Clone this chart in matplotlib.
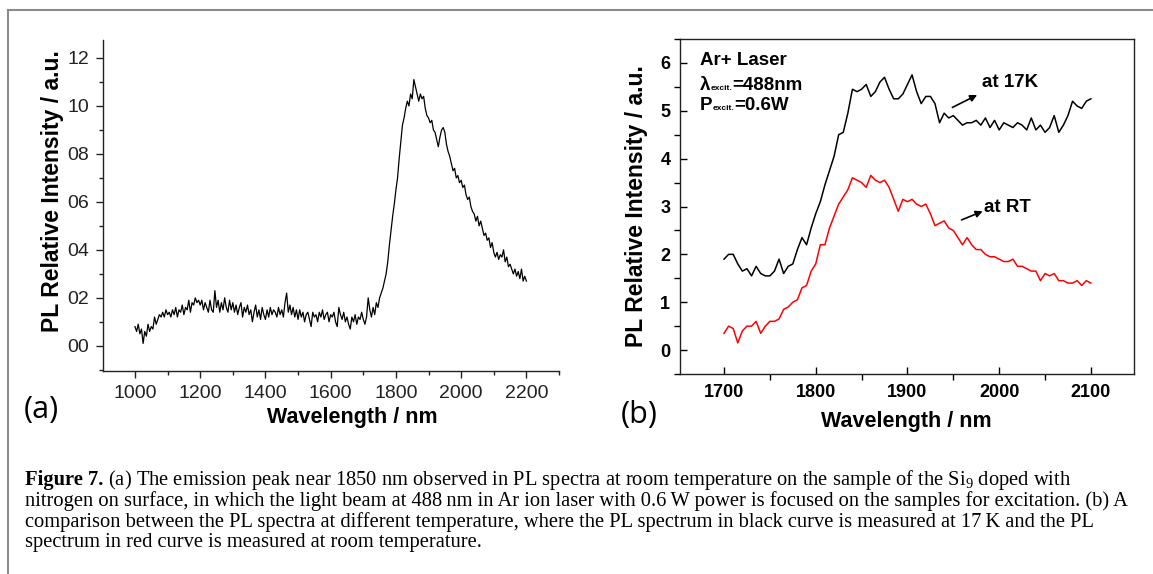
import numpy as np
import matplotlib
matplotlib.use('Agg')
import matplotlib.pyplot as plt
from matplotlib.lines import Line2D
from matplotlib.ticker import MultipleLocator, FormatStrFormatter

plt.rcParams['font.family'] = ['Liberation Sans', 'DejaVu Sans']
plt.rcParams['mathtext.fontset'] = 'custom'
plt.rcParams['mathtext.rm'] = 'Liberation Serif'
plt.rcParams['mathtext.it'] = 'Liberation Serif:italic'
plt.rcParams['mathtext.bf'] = 'Liberation Serif:bold'

# (a) PL spectrum at room temperature, 1000-2200 nm
wl_a = np.arange(1000, 2205, 5)
pl_a = [
    0.8, 0.6, 0.9, 0.5, 0.7, 0.1, 0.6, 0.4, 0.9, 0.6, 0.8, 0.7, 1.2, 0.9, 1.1, 1.3, 1.2, 1.4, 1.2, 1.5,
    1.3, 1.4, 1.2, 1.5, 1.3, 1.6, 1.2, 1.5, 1.4, 1.7, 1.3, 1.6, 1.5, 1.9, 1.4, 1.8, 1.7, 2.0, 1.8, 1.9,
    1.7, 1.9, 1.5, 1.8, 1.6, 1.4, 1.9, 1.5, 1.4, 2.3, 1.6, 1.9, 1.4, 1.8, 1.5, 2.0, 1.6, 1.4, 1.9, 1.5,
    1.8, 1.4, 1.7, 1.3, 1.6, 1.8, 1.2, 1.6, 1.4, 1.7, 1.3, 1.5, 1.0, 1.4, 1.7, 1.2, 1.5, 1.1, 1.6, 1.3,
    1.1, 1.5, 1.2, 1.6, 1.3, 1.5, 1.4, 1.2, 1.6, 1.3, 1.5, 1.2, 1.8, 2.2, 1.4, 1.7, 1.3, 1.6, 1.2, 1.5,
    1.1, 1.5, 1.2, 1.4, 1.0, 1.3, 1.4, 1.1, 0.8, 1.4, 1.2, 1.3, 1.0, 1.4, 1.2, 1.5, 1.1, 1.3, 1.4, 1.0,
    1.3, 1.2, 1.4, 1.0, 0.8, 1.6, 1.3, 1.1, 1.4, 1.0, 1.2, 0.9, 0.7, 1.2, 1.0, 1.3, 0.9, 1.2, 1.1, 1.4,
    1.1, 0.9, 1.2, 2.0, 1.5, 1.2, 1.6, 1.3, 1.8, 1.6, 2.0, 2.2, 2.4, 2.7, 3.0, 3.5, 4.2, 4.8, 5.4, 5.9,
    6.5, 7.0, 7.8, 8.5, 9.2, 9.5, 9.9, 10.2, 10.0, 10.5, 10.3, 11.1, 10.8, 10.5, 10.2, 10.5, 10.3, 10.4, 9.9, 9.6,
    9.5, 9.3, 9.4, 9.0, 8.9, 8.6, 8.3, 8.7, 9.0, 9.1, 8.9, 8.4, 8.1, 7.9, 7.6, 7.3, 7.4, 7.0, 7.1, 6.8,
    6.9, 6.6, 6.7, 6.3, 6.1, 6.2, 5.8, 5.6, 5.5, 5.2, 5.4, 5.0, 5.2, 4.9, 4.6, 4.7, 4.4, 4.5, 4.1, 4.3,
    3.9, 3.7, 3.9, 3.6, 3.8, 3.7, 4.0, 3.5, 3.7, 3.3, 3.4, 3.2, 3.0, 3.2, 2.9, 3.1, 2.8, 3.2, 2.7, 2.9,
    2.7,
]

# (b) PL spectra at 17 K and at room temperature, 1700-2100 nm
wl_b = np.arange(1700, 2105, 5)
pl_17k = [
    1.9, 2.0, 2.0, 1.8, 1.65, 1.7, 1.55, 1.75, 1.6, 1.55,
    1.55, 1.65, 1.9, 1.6, 1.75, 1.8, 2.1, 2.35, 2.2, 2.55,
    2.85, 3.1, 3.45, 3.75, 4.05, 4.5, 4.55, 4.95, 5.45, 5.4,
    5.45, 5.55, 5.3, 5.4, 5.6, 5.7, 5.45, 5.25, 5.25, 5.35,
    5.55, 5.75, 5.4, 5.15, 5.3, 5.3, 5.15, 4.75, 4.95, 4.85,
    4.9, 4.8, 4.7, 4.75, 4.75, 4.8, 4.7, 4.85, 4.65, 4.8,
    4.6, 4.75, 4.7, 4.65, 4.75, 4.7, 4.6, 4.85, 4.6, 4.7,
    4.55, 4.65, 4.9, 4.55, 4.7, 4.9, 5.2, 5.1, 5.05, 5.2,
    5.25,
]
pl_rt = [
    0.35, 0.5, 0.45, 0.15, 0.4, 0.5, 0.5, 0.6, 0.35, 0.5,
    0.6, 0.6, 0.65, 0.85, 0.9, 1.0, 1.05, 1.3, 1.35, 1.65,
    1.8, 2.2, 2.2, 2.55, 2.8, 3.05, 3.2, 3.35, 3.6, 3.55,
    3.5, 3.4, 3.65, 3.55, 3.5, 3.55, 3.4, 3.15, 2.9, 3.15,
    3.1, 3.15, 3.05, 3.0, 3.05, 2.85, 2.6, 2.65, 2.7, 2.55,
    2.5, 2.35, 2.2, 2.35, 2.2, 2.1, 2.1, 2.0, 1.95, 1.95,
    1.9, 1.85, 1.85, 1.9, 1.75, 1.75, 1.7, 1.65, 1.65, 1.45,
    1.6, 1.55, 1.6, 1.45, 1.45, 1.4, 1.4, 1.45, 1.35, 1.45,
    1.4,
]

caption_first = ' (a) The emission peak near 1850 nm observed in PL spectra at room temperature on the sample of the Si$_9$ doped with'
caption = [
    "nitrogen on surface, in which the light beam at 488\u2009nm in Ar ion laser with 0.6\u2009W power is focused on the samples for excitation. (b) A",
    "comparison between the PL spectra at different temperature, where the PL spectrum in black curve is measured at 17\u2009K and the PL",
    "spectrum in red curve is measured at room temperature.",
]

W, H = 1153, 574
fig = plt.figure(figsize=(W / 100, H / 100), dpi=100)

# frame around the figure
fig.add_artist(Line2D([8 / W, 8 / W], [0, 1 - 10 / H], transform=fig.transFigure, color='#8c8c8c', lw=1.5))
fig.add_artist(Line2D([8 / W, 1], [1 - 10 / H, 1 - 10 / H], transform=fig.transFigure, color='#8c8c8c', lw=1.5))

# ---- panel (a)
ax1 = fig.add_axes([103 / W, 1 - 371 / H, 456 / W, 331 / H])
ax1.plot(wl_a, pl_a, color='black', lw=0.9)
ax1.set_xlim(902, 2300)
ax1.set_ylim(-1.05, 12.75)
ax1.spines['top'].set_visible(False)
ax1.spines['right'].set_visible(False)
for s in ['left', 'bottom']:
    ax1.spines[s].set_linewidth(1.0)
    ax1.spines[s].set_color('#222222')
ax1.set_xticks(range(1000, 2201, 200))
ax1.xaxis.set_minor_locator(MultipleLocator(100))
ax1.yaxis.set_major_locator(MultipleLocator(2))
ax1.yaxis.set_minor_locator(MultipleLocator(1))
ax1.yaxis.set_major_formatter(FormatStrFormatter('%02d'))
ax1.tick_params(which='major', direction='out', length=5, width=1.0, labelsize=14,
                colors='#222222', pad=5)
ax1.tick_params(which='minor', direction='out', length=3, width=1.0, colors='#222222')
fig.text(53 / W, 1 - 191 / H, 'PL Relative Intensity / a.u.', rotation=90, ha='center', va='center',
         fontsize=16.5, fontweight='bold')
fig.text(352 / W, 1 - 418 / H, 'Wavelength / nm', ha='center', va='center', fontsize=15.5, fontweight='bold')
fig.text(24 / W, 1 - 410 / H, '(a)', ha='left', va='center', fontsize=22, family=['Open Sans', 'DejaVu Sans'])

# ---- panel (b)
ax2 = fig.add_axes([680 / W, 1 - 374 / H, 454 / W, 335 / H])
ax2.plot(wl_b, pl_17k, color='black', lw=1.1)
ax2.plot(wl_b, pl_rt, color='#ff0000', lw=1.1)
ax2.set_xlim(1652, 2147)
ax2.set_ylim(-0.5, 6.5)
for s in ax2.spines.values():
    s.set_linewidth(1.0)
    s.set_color('#222222')
ax2.xaxis.set_major_locator(MultipleLocator(100))
ax2.xaxis.set_minor_locator(MultipleLocator(50))
ax2.yaxis.set_major_locator(MultipleLocator(1))
ax2.yaxis.set_minor_locator(MultipleLocator(0.5))
ax2.tick_params(which='major', direction='in', length=5, width=1.0, labelsize=13, pad=7)
ax2.tick_params(which='minor', direction='out', length=4, width=1.0)
for lab in ax2.get_xticklabels() + ax2.get_yticklabels():
    lab.set_fontweight('bold')
fig.text(636 / W, 1 - 206 / H, 'PL Relative Intensity / a.u.', rotation=90, ha='center', va='center',
         fontsize=16.5, fontweight='bold')
fig.text(906 / W, 1 - 422 / H, 'Wavelength / nm', ha='center', va='center', fontsize=15.5, fontweight='bold')
fig.text(621 / W, 1 - 415 / H, '(b)', ha='left', va='center', fontsize=22, family=['Open Sans', 'DejaVu Sans'])

# laser conditions
ax2.text(1674, 6.05, 'Ar+ Laser', fontsize=13.5, fontweight='bold', va='center')
lam = ax2.text(1674, 5.53, '\u03bb', fontsize=13.5, fontweight='bold', va='center')
sub1 = ax2.annotate('excit.', xy=(1, 0.1), xycoords=lam, fontsize=6, fontweight='bold', va='bottom')
ax2.annotate('=488nm', xy=(1, 0), xycoords=(sub1, lam), fontsize=13.5, fontweight='bold', va='bottom')
pw = ax2.text(1674, 5.11, 'P', fontsize=13.5, fontweight='bold', va='center')
sub2 = ax2.annotate('excit.', xy=(1, 0.1), xycoords=pw, fontsize=6, fontweight='bold', va='bottom')
ax2.annotate('=0.6W', xy=(1, 0), xycoords=(sub2, pw), fontsize=13.5, fontweight='bold', va='bottom')

arrow = dict(arrowstyle='-|>', color='black', lw=1.2, mutation_scale=10, shrinkA=0, shrinkB=0)
ax2.annotate('', xy=(1976, 5.33), xytext=(1949, 5.07), arrowprops=arrow)
ax2.text(1981, 5.59, 'at 17K', fontsize=13.5, fontweight='bold', va='center')
ax2.annotate('', xy=(1982, 2.90), xytext=(1959, 2.72), arrowprops=arrow)
ax2.text(1983, 2.97, 'at RT', fontsize=13.5, fontweight='bold', va='center')

# ---- caption
serif = ['Liberation Serif', 'DejaVu Serif']
cap_size = 14.8
cap_y = [485, 506, 526.5, 547]
fig_lbl = fig.text(25 / W, 1 - cap_y[0] / H, 'Figure 7.', fontsize=cap_size, fontweight='bold',
                   family=serif, va='baseline')
fig.canvas.draw()
bb = fig_lbl.get_window_extent(fig.canvas.get_renderer())
fig.text(bb.x1 / W, 1 - cap_y[0] / H, caption_first, fontsize=cap_size, family=serif, va='baseline')
for yy, line in zip(cap_y[1:], caption):
    fig.text(25 / W, 1 - yy / H, line, fontsize=cap_size, family=serif, va='baseline')

fig.savefig('out.png', dpi=100)
